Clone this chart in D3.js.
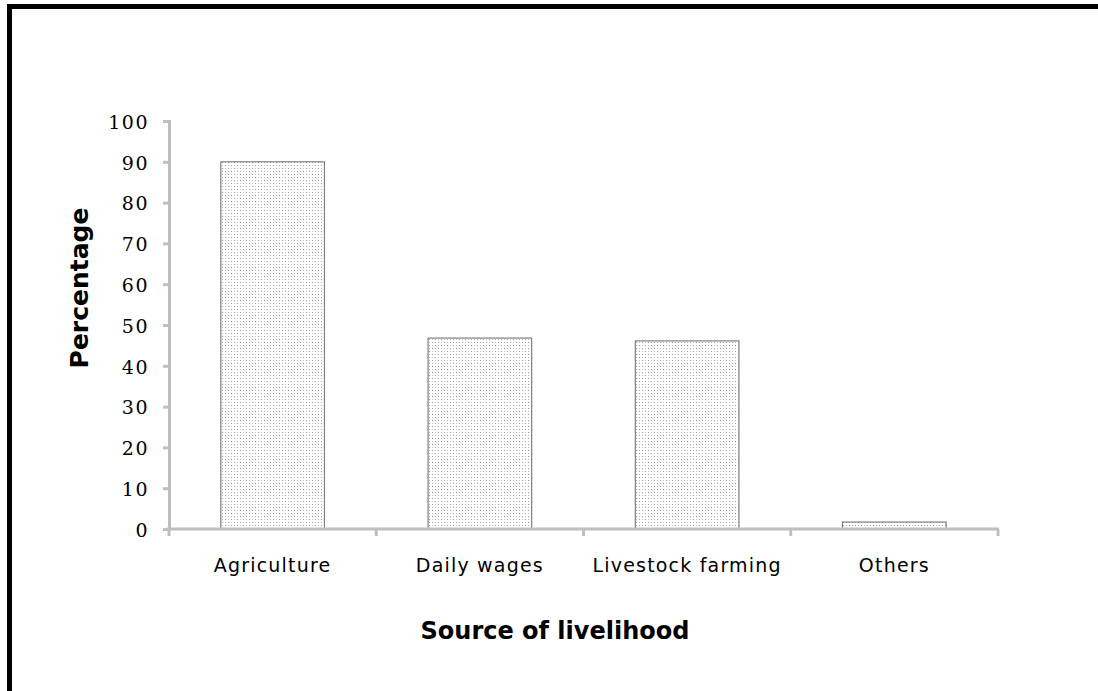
<!DOCTYPE html>
<meta charset="utf-8">
<style>
body { margin: 0; background: #fff; }
.ytick text { font-family: "DejaVu Serif", serif; font-size: 19px; letter-spacing: 1.5px; fill: #000; }
.xlab { font-family: "DejaVu Sans", Verdana, sans-serif; font-size: 19px; letter-spacing: 1.2px; fill: #000; }
.title { font-family: "DejaVu Sans", Verdana, sans-serif; font-size: 24px; font-weight: bold; fill: #000; }
</style>
<body>
<svg width="1098" height="691"></svg>
<script src="https://cdnjs.cloudflare.com/ajax/libs/d3/7.8.5/d3.min.js"></script>
<script>

var categories = ["Agriculture", "Daily wages", "Livestock farming", "Others"];
var values = [90, 46.8, 46.1, 1.7];
var yTicks = [0, 10, 20, 30, 40, 50, 60, 70, 80, 90, 100];

var svg = d3.select("svg");

// frame (only left and top edges show)
svg.append("rect")
  .attr("x", 9.5).attr("y", 6.5)
  .attr("width", 1200).attr("height", 800)
  .attr("fill", "none")
  .attr("stroke", "#000")
  .attr("stroke-width", 5);

// dotted fill
var defs = svg.append("defs");
var pat = defs.append("pattern")
  .attr("id", "dots")
  .attr("patternUnits", "userSpaceOnUse")
  .attr("width", 6).attr("height", 6);
pat.append("rect").attr("width", 6).attr("height", 6).attr("fill", "#fff");
pat.append("rect").attr("x", 0).attr("y", 0).attr("width", 1).attr("height", 1).attr("fill", "#999");
pat.append("rect").attr("x", 3).attr("y", 3).attr("width", 1).attr("height", 1).attr("fill", "#999");
pat.append("rect").attr("x", 3).attr("y", 0).attr("width", 1).attr("height", 1).attr("fill", "#bbb");
pat.append("rect").attr("x", 0).attr("y", 3).attr("width", 1).attr("height", 1).attr("fill", "#bbb");

var x = d3.scaleBand()
  .domain(categories)
  .range([169, 998])
  .paddingInner(0.5)
  .paddingOuter(0.25);

var xb = d3.scaleBand().domain(categories).range([169, 998]);

var y = d3.scaleLinear()
  .domain([0, 100])
  .range([529, 121]);

// bars
svg.selectAll(".bar")
  .data(values)
  .enter().append("rect")
  .attr("class", "bar")
  .attr("x", function(d, i) { return x(categories[i]); })
  .attr("width", x.bandwidth())
  .attr("y", function(d) { return y(d); })
  .attr("height", function(d) { return y(0) - y(d); })
  .attr("fill", "url(#dots)")
  .attr("stroke", "#808080")
  .attr("stroke-width", 1.2);

// y axis
var yAxis = d3.axisLeft(y)
  .tickValues(yTicks)
  .tickSize(6)
  .tickPadding(14);
var gy = svg.append("g")
  .attr("class", "ytick")
  .attr("transform", "translate(169,0)")
  .call(yAxis);
gy.select(".domain").attr("stroke", "#bfbfbf").attr("stroke-width", 3);
gy.selectAll(".tick line").attr("stroke", "#bfbfbf").attr("stroke-width", 3);
gy.selectAll(".tick text").attr("dy", "0.38em");

// x axis
var gx = svg.append("g");
gx.append("line")
  .attr("x1", 167).attr("x2", 999)
  .attr("y1", y(0)).attr("y2", y(0))
  .attr("stroke", "#bfbfbf").attr("stroke-width", 3);
var edges = categories.map(function(c) { return xb(c); }).concat([xb.range()[1]]);
gx.selectAll(".xt")
  .data(edges)
  .enter().append("line")
  .attr("x1", function(d) { return d; }).attr("x2", function(d) { return d; })
  .attr("y1", y(0)).attr("y2", y(0) + 7)
  .attr("stroke", "#bfbfbf").attr("stroke-width", 3);

gx.selectAll(".xlab")
  .data(categories)
  .enter().append("text")
  .attr("class", "xlab")
  .attr("x", function(d) { return xb(d) + xb.bandwidth() / 2; })
  .attr("y", 572)
  .attr("text-anchor", "middle")
  .text(function(d) { return d; });

// titles
svg.append("text")
  .attr("class", "title")
  .attr("x", 555).attr("y", 639)
  .attr("text-anchor", "middle")
  .text("Source of livelihood");

svg.append("text")
  .attr("class", "title")
  .attr("transform", "translate(88,288) rotate(-90)")
  .attr("text-anchor", "middle")
  .style("font-size", "25px")
  .text("Percentage");

</script>
</body>
